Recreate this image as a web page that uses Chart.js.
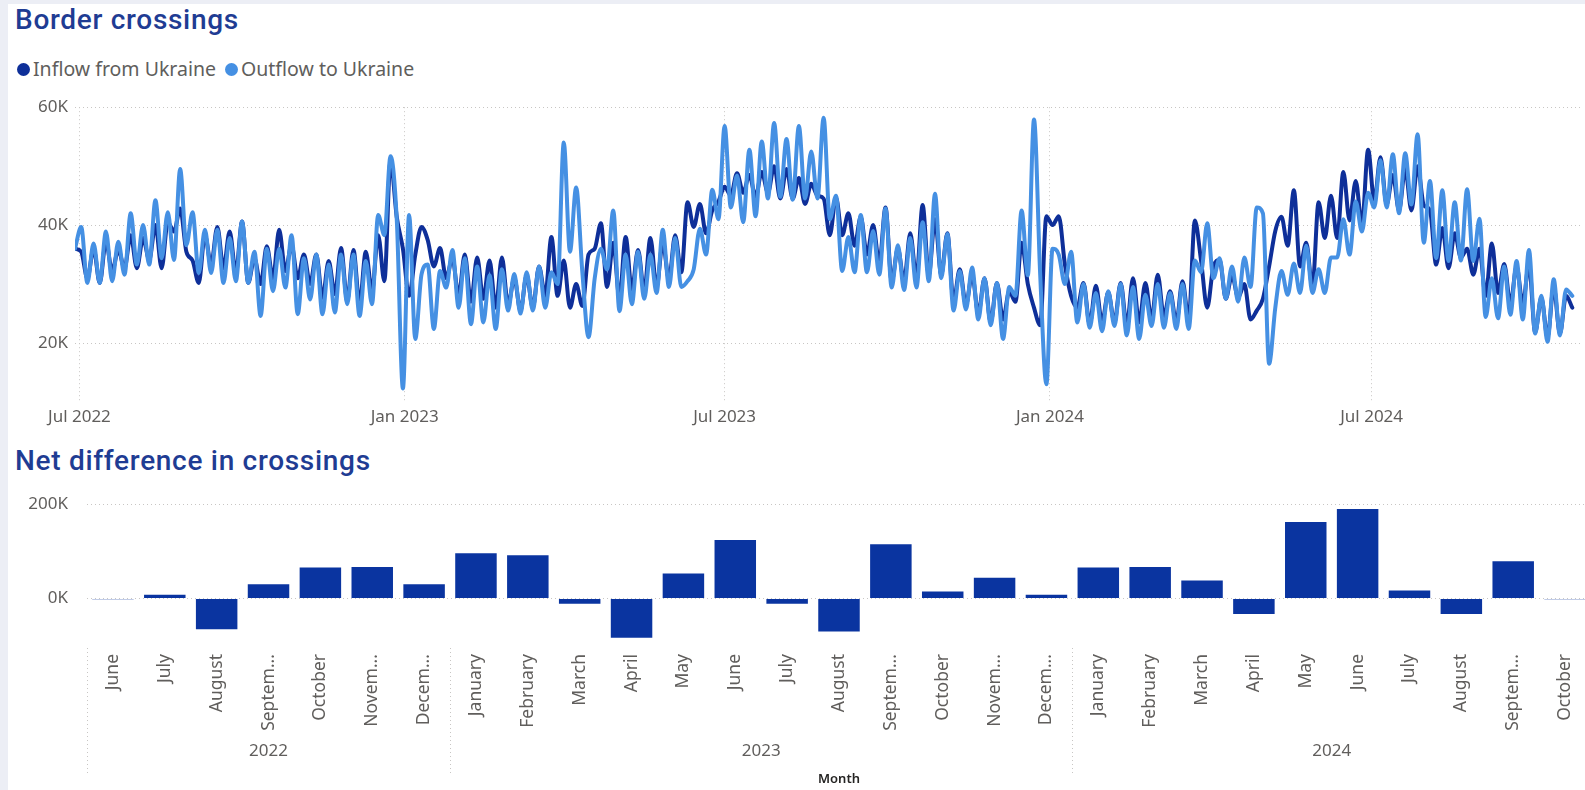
<!DOCTYPE html>
<html>
<head>
<meta charset="UTF-8">
<title>Border crossings</title>
<script src="https://cdn.jsdelivr.net/npm/chart.js@4.4.0/dist/chart.umd.min.js"></script>
<style>
  * { margin: 0; padding: 0; box-sizing: border-box; }
  html, body { width: 1585px; height: 790px; overflow: hidden; background: #eceef5; font-family: "Noto Sans", sans-serif; }
  body { position: relative; }
  .card { position: absolute; left: 8px; top: 4px; right: 0; bottom: 0; background: #fff; }
  .title { position: absolute; left: 15px; font-family: Roboto, sans-serif; font-weight: 500; font-size: 28px; line-height: 32px; letter-spacing: 0.7px; color: #1f3c93; white-space: nowrap; }
  .legend { position: absolute; left: 17px; top: 57px; font-size: 19.5px; line-height: 24px; color: #605e5c; white-space: nowrap; display: flex; align-items: center; }
  .legend .dot { display: inline-block; width: 13px; height: 13px; border-radius: 50%; margin-right: 3px; }
  .legend .item { display: flex; align-items: center; margin-right: 9px; }
  canvas { position: absolute; left: 0; }
</style>
</head>
<body>
<div class="card"></div>
<div class="title" style="top:4px">Border crossings</div>
<div class="legend" id="legend"></div>
<canvas id="lineChart" width="1585" height="340" style="top:90px"></canvas>
<div class="title" style="top:445px">Net difference in crossings</div>
<canvas id="barChart" width="1593" height="315" style="top:475px"></canvas>

<script>
// ---- daily crossings (thousands), one value every 3.5 days starting 28 Jun 2022 ----
const startDay = -2.5;   // days from 1 Jul 2022
const stepDays = 3.5;
const seriesNames = ['Inflow from Ukraine', 'Outflow to Ukraine'];
const seriesColors = ['#0e2f99', '#4590e3'];

const inflowK = [
  36,35.5, 31,36, 30.2,37.2, 32.2,35.8, 32.7,38.3, 32.7,37.8, 34.1,40, 32.7,40.5, 38.9,42.8, 35.5,34,
  30.2,38.3, 33.3,39.7, 32.7,38.9, 31.9,40.6, 30.2,34.4, 30,36.4, 31,39.2, 32.2,36.6, 31,35, 30,35,
  27.7,33.9, 28.3,36.1, 27.2,35.8, 26.6,35.5, 28.8,38.3, 30.5,50.9, 41.4,36, 28,35, 39.7,37.5, 33,36.1,
  31,34.4, 28,35, 27,34.5, 27.5,34, 26,34.5, 26.5,31, 25.5,31.5, 26,33, 28,38, 28,34,
  26,30, 26.3,35, 36,40.3, 29.5,37, 27.6,38, 29,35.8, 28.8,37.8, 29.5,37, 30.8,38.3, 32,43.9,
  39.7,43.6, 38.6,42.5, 44,46.5, 45,48.8, 45.5,48.5, 44.8,49, 45.5,50, 44.5,49.5, 44.5,48, 43.6,47,
  45,44.5, 38.3,44.7, 38.3,42, 36.5,41.4, 35,40, 33.5,43, 30.5,36, 30.5,38.6, 31,43.4, 31.6,41,
  31.6,38.6, 27,32.5, 26.5,31.6, 25,31, 23.5,30.2, 24,28.8, 27,37, 30,26, 23,41.5, 40,41.5,
  33.3,28, 26,30.2, 23.2,29.7, 23.5,28.6, 23.5,30.2, 23,31, 23.5,30.2, 24,31.6, 24.5,28.8, 23.5,30.5,
  24,40.8, 34,26, 33,34.1, 27.5,31.5, 27.7,30, 24,25.5, 27.5,33, 39,41.4, 36.5,45.9, 33,37,
  29.5,43.9, 37.8,45, 37.8,49, 40.8,47.5, 40,52.8, 44,51.5, 43.5,48.5, 42.5,49.5, 42.5,50, 43.4,42.5,
  33.3,39.5, 32.7,38.6, 34.5,36, 31.6,36, 28,36.9, 28.5,33.4, 26.6,33, 26.6,33.4, 21.8,27.7, 21,29.5, 21.6,28,
  26
];

const outflowK = [
  36,39.7, 30.2,36.9, 30.2,38.9, 30.5,37.2, 31.6,42, 33.3,40, 33.3,44.2, 34.4,42.2, 34.1,49.5, 36.6,42.2,
  31.9,39.2, 31.9,39.2, 30.2,37.8, 30.5,40.6, 30.2,35.5, 24.6,36, 28.8,36, 29.4,38.3, 24.9,34.4, 27.4,35,
  24.9,33.3, 25.2,35, 26.6,35, 24.6,33.9, 26.6,41.7, 38.3,51.7, 41.1,12.3, 41.7,20.7, 31.6,33.3, 22.4,32.2,
  29.4,35.8, 26,34.4, 23.2,33, 23.5,31.5, 22.4,32.5, 25.5,31.7, 25,32, 25.5,33, 26,32, 30,54,
  35.5,46.4, 32,21, 31,36, 32.5,42.5, 25.4,35, 26.6,35.5, 27.5,35, 28.5,39.2, 29.5,37.8, 29.5,30.5,
  32.5,39.4, 35,46, 41,56.8, 43,48.4, 40.5,52.8, 41.5,54.2, 44.5,57.3, 44.8,54.6, 44.3,56.8, 44.5,52.5,
  44.5,58.2, 41,45, 32.2,38, 32,41.7, 32,39, 31.6,42.8, 29.4,36.6, 29,37.8, 29.4,40.5, 30.5,45.3,
  31,38.5, 25.5,32.2, 25.7,32.8, 24,31, 23,30.2, 20.7,29.5, 28,42.5, 31.5,57.9, 31.6,13, 36,35,
  30,35.5, 23.5,30, 22.6,28.5, 22,28.8, 22.9,30, 21.3,29.5, 20.7,28.2, 22.9,30, 22.6,28.5, 22.4,30,
  22.4,34, 32,40.3, 31,34.4, 27.5,33, 27,34.5, 29.5,43, 42,16.5, 26,32.2, 28.2,33.5, 28.5,36.5,
  28.5,32.5, 28.5,34.5, 34.5,41, 35,44, 38.9,45.5, 43,51, 43,52, 42,52.2, 43.5,55.4, 37,47.5,
  34.4,45.9, 33.9,43.9, 34,46.1, 33.9,41.1, 24.4,31, 24.2,33, 24.8,33.9, 24,35.8, 21.6,28, 20.2,30.8, 21.3,29.1,
  28
];

const xTickDays = [0, 184, 365, 549, 731];
const xTickLabels = ['Jul 2022', 'Jan 2023', 'Jul 2023', 'Jan 2024', 'Jul 2024'];
const yTickValues = [20, 40, 60];

// ---- monthly net difference (thousands) ----
const monthLabels = ['June', 'July', 'August', 'Septem...', 'October', 'Novem...', 'Decem...',
  'January', 'February', 'March', 'April', 'May', 'June', 'July', 'August', 'Septem...', 'October', 'Novem...', 'Decem...',
  'January', 'February', 'March', 'April', 'May', 'June', 'July', 'August', 'Septem...', 'October'];
const netDiffK = [-1.5, 8, -65, 30, 66, 67, 30,
  96, 92, -11, -83, 53, 124, -11, -70, 115, 15, 44, 8,
  66, 67, 38, -33, 162, 190, 17, -33, 79, -1.5];
const yearLabels = ['2022', '2023', '2024'];
const yearMonthCounts = [7, 12, 10];
const barTickValues = [0, 200];
const barColor = '#0a34a0';

const TEXT = '#605e5c';
const GRID = '#c8c6c4';
Chart.defaults.font.family = '"Noto Sans", sans-serif';

// legend
document.getElementById('legend').innerHTML = seriesNames.map((n, i) =>
  `<span class="item"><span class="dot" style="background:${seriesColors[i]}"></span>${n}</span>`).join('');

const toPoints = arr => arr.map((v, i) => ({ x: startDay + i * stepDays, y: v }));

new Chart(document.getElementById('lineChart'), {
  type: 'line',
  data: {
    datasets: [
      { label: seriesNames[0], data: toPoints(inflowK), borderColor: seriesColors[0], order: 1 },
      { label: seriesNames[1], data: toPoints(outflowK), borderColor: seriesColors[1], order: 0 },
    ]
  },
  options: {
    responsive: false,
    animation: false,
    layout: { padding: { top: 13, right: 3, bottom: 0, left: 0 } },
    elements: {
      point: { radius: 0 },
      line: { borderWidth: 4, cubicInterpolationMode: 'monotone', borderJoinStyle: 'round', borderCapStyle: 'round' }
    },
    plugins: { legend: { display: false }, tooltip: { enabled: false } },
    scales: {
      x: {
        type: 'linear', min: startDay, max: 850,
        afterBuildTicks: s => { s.ticks = xTickDays.map(v => ({ value: v })); },
        afterFit: s => { s.height = 28; },
        ticks: { callback: (v, i) => xTickLabels[i], maxRotation: 0, autoSkip: false, padding: 5, color: TEXT, font: { size: 17 } },
        grid: { color: GRID, drawTicks: false },
        border: { display: false, dash: [1, 3] }
      },
      y: {
        min: 10, max: 60,
        afterBuildTicks: s => { s.ticks = yTickValues.map(v => ({ value: v })); },
        afterFit: s => { s.width = 75; },
        ticks: { callback: v => v + 'K', padding: 7, color: TEXT, font: { size: 17 } },
        grid: { color: GRID, drawTicks: false },
        border: { display: false, dash: [1, 3] }
      }
    }
  }
});

// year groups under the month labels
const yearGroups = {
  id: 'yearGroups',
  afterDraw(chart) {
    const { ctx, chartArea } = chart;
    const x = chart.scales.x;
    const band = x.getPixelForValue(1) - x.getPixelForValue(0);
    const base = chartArea.bottom;
    ctx.save();
    ctx.strokeStyle = GRID;
    ctx.lineWidth = 1;
    ctx.setLineDash([1, 3]);
    ctx.fillStyle = TEXT;
    ctx.font = '17px "Noto Sans", sans-serif';
    ctx.textAlign = 'center';
    ctx.textBaseline = 'middle';
    let start = 0;
    yearLabels.forEach((yr, g) => {
      const n = yearMonthCounts[g];
      const x0 = x.getPixelForValue(start) - band / 2;
      const x1 = x.getPixelForValue(start + n - 1) + band / 2;
      ctx.beginPath();
      ctx.moveTo(Math.round(x0) + 0.5, base + 8);
      ctx.lineTo(Math.round(x0) + 0.5, base + 135);
      ctx.stroke();
      ctx.fillText(yr, (x0 + x1) / 2, base + 111);
      start += n;
    });
    ctx.fillStyle = '#252423';
    ctx.font = '600 13px "Noto Sans", sans-serif';
    ctx.fillText('Month', (chartArea.left + chartArea.right) / 2, base + 139);
    ctx.restore();
  }
};

new Chart(document.getElementById('barChart'), {
  type: 'bar',
  data: {
    labels: monthLabels,
    datasets: [{ data: netDiffK, backgroundColor: barColor, categoryPercentage: 1, barPercentage: 0.8 }]
  },
  options: {
    responsive: false,
    animation: false,
    layout: { padding: { top: 27, right: 2, bottom: 0, left: 0 } },
    plugins: { legend: { display: false }, tooltip: { enabled: false } },
    scales: {
      x: {
        afterFit: s => { s.height = 150; },
        ticks: { minRotation: 90, maxRotation: 90, autoSkip: false, padding: 6, color: TEXT, font: { size: 17.5 } },
        grid: { display: false },
        border: { display: false }
      },
      y: {
        min: -88, max: 200,
        afterBuildTicks: s => { s.ticks = barTickValues.map(v => ({ value: v })); },
        afterFit: s => { s.width = 87; },
        ticks: { callback: v => v + 'K', padding: 19, color: TEXT, font: { size: 17 } },
        grid: { color: GRID, drawTicks: false },
        border: { display: false, dash: [1, 3] }
      }
    }
  },
  plugins: [yearGroups]
});
</script>
</body>
</html>
